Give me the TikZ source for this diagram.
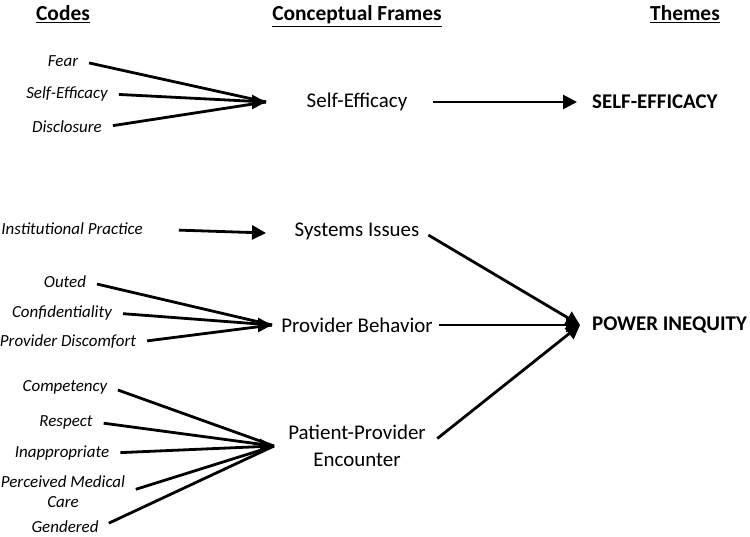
\documentclass[tikz,border=0pt]{standalone}
\usepackage{fontspec}
\setmainfont{Carlito}
\usetikzlibrary{arrows.meta}
\begin{document}
\begin{tikzpicture}[x=1bp,y=-1bp,
  code/.style={font=\fontsize{17}{20}\selectfont\itshape, inner sep=2pt, align=center},
  frame/.style={font=\fontsize{21}{27}\selectfont, inner sep=2pt, align=center},
  theme/.style={font=\fontsize{21}{24}\selectfont\bfseries, inner sep=2pt},
  head/.style={font=\fontsize{21.5}{24}\selectfont\bfseries, inner sep=0pt, anchor=base},
  conn/.style={line width=2.8bp, -{Triangle[length=14bp,width=14bp]}},
  feed/.style={line width=2.8bp, shorten <=9bp}]
\useasboundingbox (0,0) rectangle (750,537);
% headers
\node[head] (hc) at (63,21) {\underline{Codes}};
\node[head] (hf) at (357,21) {\underline{Conceptual Frames}};
\node[head] (ht) at (685,21) {\underline{Themes}};
% frames
\node[frame] (f1) at (357,102) {Self-Efficacy};
\node[frame] (f2) at (357,231) {Systems Issues};
\node[frame] (f3) at (357,325) {Provider Behavior};
\node[frame] (f4) at (357,446) {Patient-Provider\\Encounter};
% themes
\node[theme, anchor=west] (t1) at (590,102) {SELF-EFFICACY};
\node[theme, anchor=west] (t2) at (590,325) {POWER INEQUITY};
% tip coordinates
\coordinate (p1) at (266,102);
\coordinate (p2) at (266,233);
\coordinate (p3) at (272,325);
\coordinate (p4) at (274,446);
\coordinate (q1) at (577,102);
\coordinate (q2) at (580,325);
% codes
\node[code] (c1) at (63,61) {Fear};
\node[code] (c2) at (67,94) {Self-Efficacy};
\node[code] (c3) at (67,127) {Disclosure};
\node[code] (c4) at (72,229) {Institutional Practice};
\node[code] (c5) at (65,282) {Outed};
\node[code] (c6) at (62,313) {Confidentiality};
\node[code] (c7) at (68,342) {Provider Discomfort};
\node[code] (c8) at (65,387) {Competency};
\node[code] (c9) at (66,422) {Respect};
\node[code] (c10) at (62,453) {Inappropriate};
\node[code] (c11) at (63,492) {Perceived Medical\\Care};
\node[code] (c12) at (65,527) {Gendered};
% connectors: codes to frames
\draw[feed] (c1.east) -- (p1);
\draw[feed] (c2.east) -- (p1);
\draw[feed] (c3.east) -- (p1);
\draw[conn] (p1) ++(-2,0) -- (p1);
\draw[conn, shorten <=34bp] (c4.east) -- (p2);
\draw[feed] (c5.east) -- (p3);
\draw[feed] (c6.east) -- (p3);
\draw[feed] (c7.east) -- (p3);
\draw[conn] (p3) ++(-2,0) -- (p3);
\draw[feed] (c8.east) -- (p4);
\draw[feed] (c9.east) -- (p4);
\draw[feed] (c10.east) -- (p4);
\draw[feed] (c11.east) -- (p4);
\draw[feed] (c12.east) -- (p4);
\draw[conn] (p4) ++(-2,0) -- (p4);
% connectors: frames to themes
\draw[conn, shorten <=24bp] (f1.east) -- (q1);
\draw[conn, shorten <=8bp] (f2.east) -- (q2);
\draw[conn, shorten <=4bp] (f3.east) -- (q2);
\draw[conn, shorten <=12bp] (f4.east) -- (q2);
\end{tikzpicture}
\end{document}
